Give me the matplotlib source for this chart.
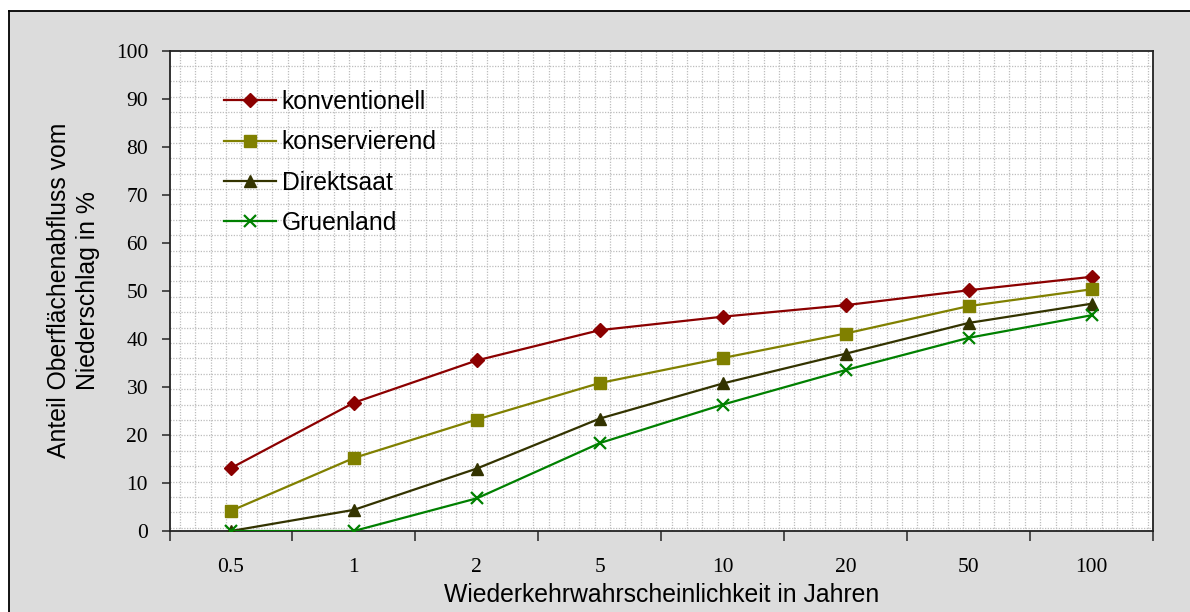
import matplotlib
matplotlib.use("Agg")
import matplotlib.pyplot as plt
import numpy as np
from matplotlib.patches import Rectangle
from matplotlib.lines import Line2D

# Wiederkehrintervalle (Kategorien) und Anteile in %
jahre = ["0.5", "1", "2", "5", "10", "20", "50", "100"]
konventionell = [13.1, 26.7, 35.5, 41.8, 44.6, 47.0, 50.1, 52.9]
konservierend = [4.2, 15.2, 23.2, 30.8, 36.0, 41.1, 46.8, 50.3]
direktsaat = [0.0, 4.4, 13.0, 23.4, 30.7, 36.9, 43.3, 47.3]
gruenland = [0.0, 0.0, 6.8, 18.3, 26.3, 33.5, 40.2, 44.9]

W, H = 1190, 612
fig = plt.figure(figsize=(W / 100, H / 100), dpi=100)
fig.patch.set_facecolor("white")

# grauer Diagrammbereich mit schwarzem Rand oben/links
bx, by = 8.5 / W, 1 - 10.5 / H
fig.add_artist(Rectangle((bx, 0), 1 - bx, by, transform=fig.transFigure,
                         facecolor="#dcdcdc", edgecolor="none", zorder=-5))
fig.add_artist(Line2D([bx, 1], [by, by], transform=fig.transFigure, color="black", lw=1.3, zorder=-4))
fig.add_artist(Line2D([bx, bx], [0, by], transform=fig.transFigure, color="black", lw=1.3, zorder=-4))

ax = fig.add_axes([169.5 / W, 1 - 531 / H, 983.5 / W, 480.5 / H])
ax.set_facecolor("white")

# gepunktetes Hintergrundraster (Musterfuellung wie in Excel)
gx = np.arange(10.5, 983.5, 15.36) / 983.5
gy = 1 - np.arange(15.2, 480.5, 15.4) / 480.5
ax.vlines(gx, 0, 1, transform=ax.transAxes, colors="#bdbdbd", linestyles=(0, (1, 1.2)), linewidth=0.9, zorder=0)
ax.hlines(gy, 0, 1, transform=ax.transAxes, colors="#bdbdbd", linestyles=(0, (1, 1.2)), linewidth=0.9, zorder=0)

x = np.arange(len(jahre))
ax.plot(x, konventionell, color="#8b0000", marker="D", ms=7, lw=1.6, label="konventionell", zorder=3)
ax.plot(x, konservierend, color="#808000", marker="s", ms=8, lw=1.6, label="konservierend", zorder=3)
ax.plot(x, direktsaat, color="#333300", marker="^", ms=9, lw=1.6, label="Direktsaat", zorder=3)
ax.plot(x, gruenland, color="#008000", marker="x", ms=9, mew=1.6, lw=1.6, label="Gruenland", zorder=3)

ax.set_xlim(-0.5, len(jahre) - 0.5)
ax.set_ylim(0, 100)
ax.set_xticks(np.arange(len(jahre) + 1) - 0.5)
ax.set_xticklabels([])
ax.set_xticks(x, minor=True)
ax.set_xticklabels(jahre, minor=True, family="Liberation Serif", fontsize=15.5)
ax.tick_params(axis="x", which="major", direction="out", length=7.5, width=1.2, color="#333333")
ax.tick_params(axis="x", which="minor", length=0, pad=19.5)
ax.set_yticks(np.arange(0, 101, 10))
ax.set_yticklabels([str(v) for v in range(0, 101, 10)], family="Liberation Serif", fontsize=15.5)
ax.tick_params(axis="y", direction="out", length=5.8, width=1.2, pad=9.6, color="#333333")
for s in ax.spines.values():
    s.set_color("#222222")
    s.set_linewidth(1.3)

ax.set_xlabel("Wiederkehrwahrscheinlichkeit in Jahren", family="Liberation Sans", fontsize=17.8)
ax.xaxis.set_label_coords(0.5, -(583 - 531) / 480.5)
ax.set_ylabel("Anteil Oberflächenabfluss vom\nNiederschlag in %", family="Liberation Sans",
              fontsize=17.8, linespacing=1.28)
ax.yaxis.set_label_coords(-(169.5 - 100) / 983.5, 0.5)

leg = ax.legend(loc="upper left", bbox_to_anchor=((224 - 169.5) / 983.5, (531 - 90) / 480.5),
                frameon=False, borderpad=0, borderaxespad=0, handlelength=2.1, handletextpad=0.24,
                labelspacing=0.66, prop={"family": "Liberation Sans", "size": 17.8})

fig.savefig("out.png", dpi=100, facecolor=fig.get_facecolor())
